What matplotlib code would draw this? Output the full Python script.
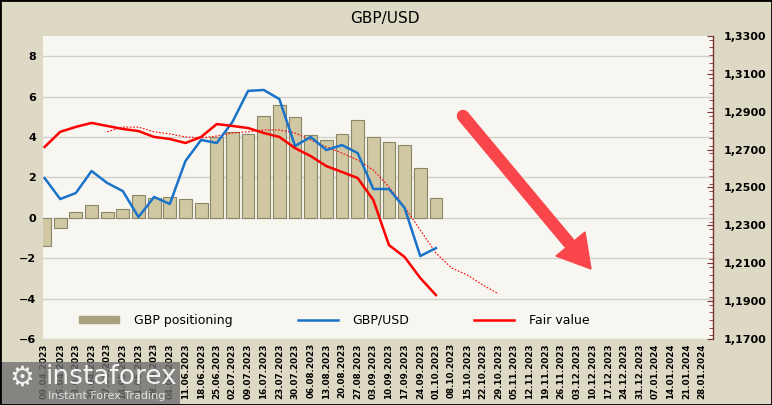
import matplotlib
matplotlib.use("Agg")
import matplotlib.pyplot as plt
import numpy as np
from matplotlib.patches import Rectangle, Polygon
from matplotlib.lines import Line2D
from matplotlib.ticker import FuncFormatter, MultipleLocator

### Data

dates = ["09.04.2023", "16.04.2023", "23.04.2023", "30.04.2023", "07.05.2023", "14.05.2023",
         "21.05.2023", "28.05.2023", "04.06.2023", "11.06.2023", "18.06.2023", "25.06.2023",
         "02.07.2023", "09.07.2023", "16.07.2023", "23.07.2023", "30.07.2023", "06.08.2023",
         "13.08.2023", "20.08.2023", "27.08.2023", "03.09.2023", "10.09.2023", "17.09.2023",
         "24.09.2023", "01.10.2023", "08.10.2023", "15.10.2023", "22.10.2023", "29.10.2023",
         "05.11.2023", "12.11.2023", "19.11.2023", "26.11.2023", "03.12.2023", "10.12.2023",
         "17.12.2023", "24.12.2023", "31.12.2023", "07.01.2024", "14.01.2024", "21.01.2024",
         "28.01.2024"]

gbp_positioning = [-1.4, -0.5, 0.3, 0.65, 0.3, 0.45, 1.15, 1.0, 1.05, 0.95, 0.75, 4.0,
                   4.25, 4.15, 5.05, 5.6, 5.0, 4.1, 3.87, 4.15, 4.85, 3.98, 3.77, 3.58,
                   2.45, 0.98]

gbpusd = [1.2550, 1.2439, 1.2471, 1.2587, 1.2524, 1.2481, 1.2344, 1.2450, 1.2413, 1.2640,
          1.2751, 1.2735, 1.2846, 1.3010, 1.3015, 1.2967, 1.2719, 1.2767, 1.2698, 1.2724,
          1.2682, 1.2492, 1.2492, 1.2392, 1.2138, 1.2180]

fair_value = [1.2714, 1.2794, 1.2820, 1.2841, 1.2825, 1.2809, 1.2798, 1.2767, 1.2756, 1.2735,
              1.2767, 1.2835, 1.2825, 1.2814, 1.2788, 1.2767, 1.2708, 1.2666, 1.2613, 1.2582,
              1.2550, 1.2434, 1.2196, 1.2133, 1.2022, 1.1932]

nan = np.nan
fair_trend = [nan, nan, nan, nan, 1.2794, 1.2819, 1.2819, 1.2794, 1.2783, 1.2767,
              1.2762, 1.2772, 1.2788, 1.2794, 1.2804, 1.2804, 1.2788, 1.2751, 1.2714, 1.2682,
              1.2645, 1.2592, 1.2503, 1.2397, 1.2275, 1.2154, 1.2075, 1.2038, 1.1985, 1.1938]

### Style

bg_outer = "#ddd9c4"
bg_plot = "#f7f6f1"
bar_face = "#cfc8a3"
bar_edge = "#8c8668"
blue = "#1a73c9"
red = "#ff0000"
axis_red = "#7b2e2e"

W, H = 772, 405
fig = plt.figure(figsize=(W / 100, H / 100), dpi=100, facecolor=bg_outer)

def px(x0, y0, x1, y1):
    # image pixel box (top-left origin) -> figure fraction rect
    return [x0 / W, 1 - y1 / H, (x1 - x0) / W, (y1 - y0) / H]

ax = fig.add_axes(px(43, 36, 713, 339))
ax.set_facecolor(bg_plot)
ax2 = ax.twinx()
ax2.patch.set_visible(False)

x = np.arange(len(dates))
xb = x[:len(gbp_positioning)]

ax.bar(xb, gbp_positioning, width=0.82, color=bar_face, edgecolor=bar_edge, linewidth=0.8, zorder=2)

ax.set_xlim(-0.1, 42.7)
ax.set_ylim(-6, 9)
ax.set_yticks(np.arange(-6, 9, 2))
ax.grid(axis="y", color="#d2d0ca", linewidth=1.0, zorder=0)
ax.set_axisbelow(True)
ax.tick_params(axis="y", length=0, pad=5, labelsize=8)
for lab in ax.get_yticklabels():
    lab.set_fontweight("bold")

ax.set_xticks(x)
ax.set_xticklabels(dates, rotation=90, fontsize=6.3, fontweight="bold")
ax.tick_params(axis="x", length=0, pad=3)
for s in ["left", "bottom", "top", "right"]:
    ax.spines[s].set_visible(False)

ax2.plot(np.arange(len(gbpusd)), gbpusd, color=blue, linewidth=1.8, zorder=4)
ax2.plot(np.arange(len(fair_value)), fair_value, color=red, linewidth=1.8, zorder=4)
ax2.plot(np.arange(len(fair_trend)), fair_trend, color=red, linewidth=0.8, linestyle=(0, (1.5, 1.5)), zorder=3)

ax2.set_ylim(1.17, 1.33)
ax2.set_yticks(np.arange(1.17, 1.3301, 0.02))
ax2.yaxis.set_minor_locator(MultipleLocator(0.004))
ax2.yaxis.set_major_formatter(FuncFormatter(lambda v, p: f"{v:.4f}".replace(".", ",")))
ax2.tick_params(axis="y", which="major", direction="in", length=4, color=axis_red, pad=8, labelsize=8)
ax2.tick_params(axis="y", which="minor", direction="in", length=3, color=axis_red)
for lab in ax2.get_yticklabels():
    lab.set_fontweight("bold")
for s in ["left", "bottom", "top"]:
    ax2.spines[s].set_visible(False)
ax2.spines["right"].set_color(axis_red)
ax2.spines["right"].set_linewidth(1.0)

# legend along the bottom of the plot
handles = [Rectangle((0, 0), 1, 1, facecolor="#aaa27c", edgecolor="#aaa27c"),
           Line2D([], [], color=blue, linewidth=1.8),
           Line2D([], [], color=red, linewidth=1.8)]
ax2.legend(handles, ["GBP positioning", "GBP/USD", "Fair value"], loc="center",
           bbox_to_anchor=(0.435, 0.062), ncols=3, frameon=False, fontsize=9,
           handlelength=3.2, handleheight=0.5, handletextpad=1.2, columnspacing=5.2)

fig.text(385 / W, 1 - 18 / H, "GBP/USD", ha="center", va="center", fontsize=11)

# big red arrow
tail = (463, 116)
base = (569, 243)
apex = (591, 269)
c1 = (585, 232)
c2 = (556, 256)
to_fig = lambda p: (p[0] / W, 1 - p[1] / H)
arrow_col = "#f9464b"
fig.add_artist(Line2D([to_fig(tail)[0], to_fig(base)[0]], [to_fig(tail)[1], to_fig(base)[1]],
                      transform=fig.transFigure, color=arrow_col, linewidth=9.0,
                      solid_capstyle="round", zorder=10))
fig.add_artist(Polygon([to_fig(c1), to_fig(apex), to_fig(c2)], closed=True,
                       transform=fig.transFigure, facecolor=arrow_col, edgecolor=arrow_col,
                       linewidth=1, zorder=10))

# watermark
fig.add_artist(Rectangle(to_fig((0, 405)), 180 / W, 43 / H, transform=fig.transFigure,
                         facecolor="#6f6f6f", alpha=0.8, edgecolor="none", zorder=11))
fig.text(to_fig((22, 378))[0], to_fig((22, 378))[1], "\u2699", ha="center", va="center",
         fontsize=20, color="#f2f2f2", zorder=12)
fig.text(to_fig((45, 377))[0], to_fig((45, 377))[1], "instaforex", ha="left", va="center",
         fontsize=19, color="#f2f2f2", zorder=12)
fig.text(to_fig((48, 396))[0], to_fig((48, 396))[1], "Instant Forex Trading", ha="left",
         va="center", fontsize=8, color="#e0e0e0", zorder=12)

# outer frame
fig.add_artist(Rectangle((0, 0), 1, 1, transform=fig.transFigure, fill=False,
                         edgecolor="black", linewidth=2, zorder=20))

fig.savefig("out.png", dpi=100, facecolor=bg_outer)
